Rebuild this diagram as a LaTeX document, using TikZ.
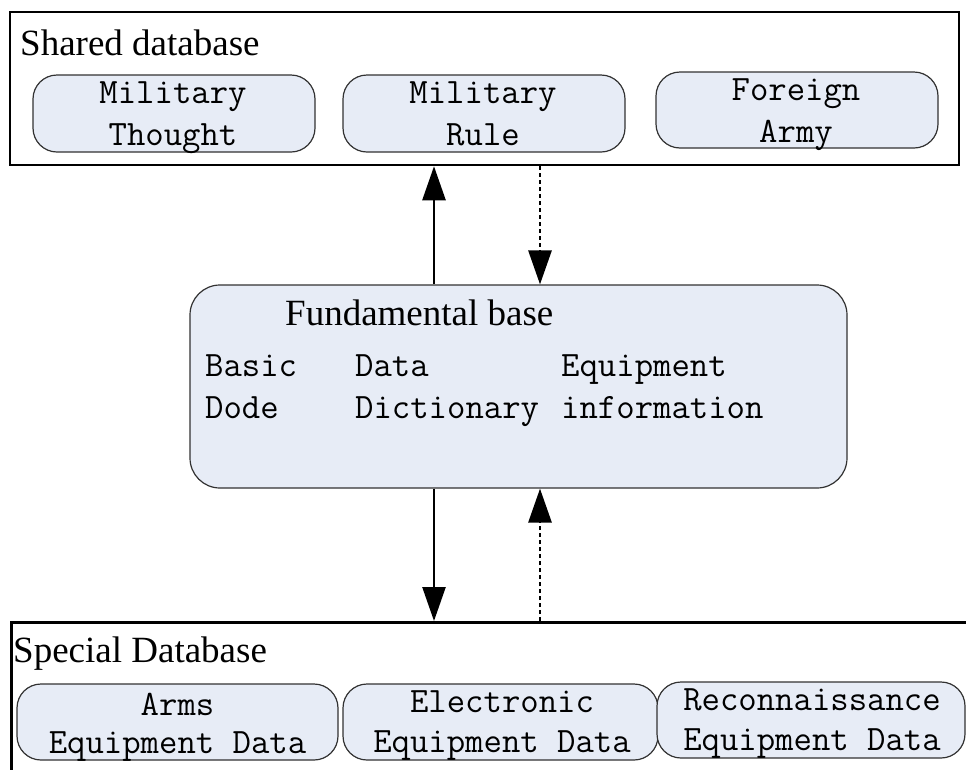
\documentclass[tikz,border=0pt]{standalone}
\usepackage{fontspec}
\setmainfont{Liberation Serif}
\usetikzlibrary{arrows.meta}
\definecolor{boxfill}{RGB}{231,236,246}
\definecolor{boxline}{RGB}{50,50,50}
\begin{document}
\begin{tikzpicture}[x=1pt,y=-1pt,
  outer/.style={draw=black, line width=2.5pt, inner sep=0pt},
  sub/.style={draw=boxline, fill=boxfill, line width=1.2pt, rounded corners=24pt, inner sep=0pt},
  lbl/.style={font=\fontsize{37}{42}\selectfont, inner sep=0pt, anchor=base west},
  mono/.style={font=\fontsize{35.7}{42}\selectfont\ttfamily, inner sep=0pt, anchor=base},
  monol/.style={mono, anchor=base west},
  link/.style={line width=2.5pt, -{Triangle[length=34pt,width=23pt]}},
  dlink/.style={link, line width=2.8pt, dash pattern=on 4pt off 3pt},
]
\useasboundingbox (0,0) rectangle (966,769);
\clip (0,0) rectangle (966,769);

% shared database
\node[outer, minimum width=949pt, minimum height=153pt] (shared) at (484.5,88.5) {};
\node[lbl] (sharedlbl) at (20,55) {Shared database};
\node[sub, minimum width=282pt, minimum height=77pt] (mt) at (174,113.5) {};
\node[sub, minimum width=282pt, minimum height=77pt] (mr) at (484,113.5) {};
\node[sub, minimum width=282pt, minimum height=76pt] (fa) at (797,110) {};
\node[mono] (mt1) at (173,103) {Military};
\node[mono] (mt2) at (173,145) {Thought};
\node[mono] (mr1) at (483,103) {Military};
\node[mono] (mr2) at (483,145) {Rule};
\node[mono] (fa1) at (796,100) {Foreign};
\node[mono] (fa2) at (796,142) {Army};

% fundamental base
\node[sub, rounded corners=30pt, minimum width=657pt, minimum height=203pt] (fund) at (518.5,386.5) {};
\node[lbl] (fundlbl) at (285,325) {Fundamental base};
\node[monol] (b1) at (205,376) {Basic};
\node[monol] (b2) at (205,418) {Dode};
\node[monol] (d1) at (355,376) {Data};
\node[monol] (d2) at (355,418) {Dictionary};
\node[monol] (e1) at (561,376) {Equipment};
\node[monol] (e2) at (561,418) {information};

% special database
\node[outer, minimum width=1000pt, minimum height=200pt, anchor=north west] (special) at (10,621) {};
\node[lbl] (speciallbl) at (13,662) {Special Database};
\node[sub, minimum width=321pt, minimum height=76pt] (arms) at (177.5,722) {};
\node[sub, minimum width=315pt, minimum height=76pt] (elec) at (500.5,722) {};
\node[sub, minimum width=308pt, minimum height=76pt] (recon) at (811,720) {};
\node[mono] (a1) at (177.5,715) {Arms};
\node[mono] (a2) at (177.5,753) {Equipment Data};
\node[mono] (el1) at (502,712) {Electronic};
\node[mono] (el2) at (502,752) {Equipment Data};
\node[mono] (r1) at (812,710) {Reconnaissance};
\node[mono] (r2) at (812,750) {Equipment Data};

% connectors
\coordinate (ax) at (434,0);
\coordinate (dx) at (540,0);
\draw[link] (fund.north -| ax) -- (shared.south -| ax);
\draw[dlink] (shared.south -| dx) -- (fund.north -| dx);
\draw[link] (fund.south -| ax) -- (special.north -| ax);
\draw[dlink] (special.north -| dx) -- (fund.south -| dx);
\end{tikzpicture}
\end{document}
